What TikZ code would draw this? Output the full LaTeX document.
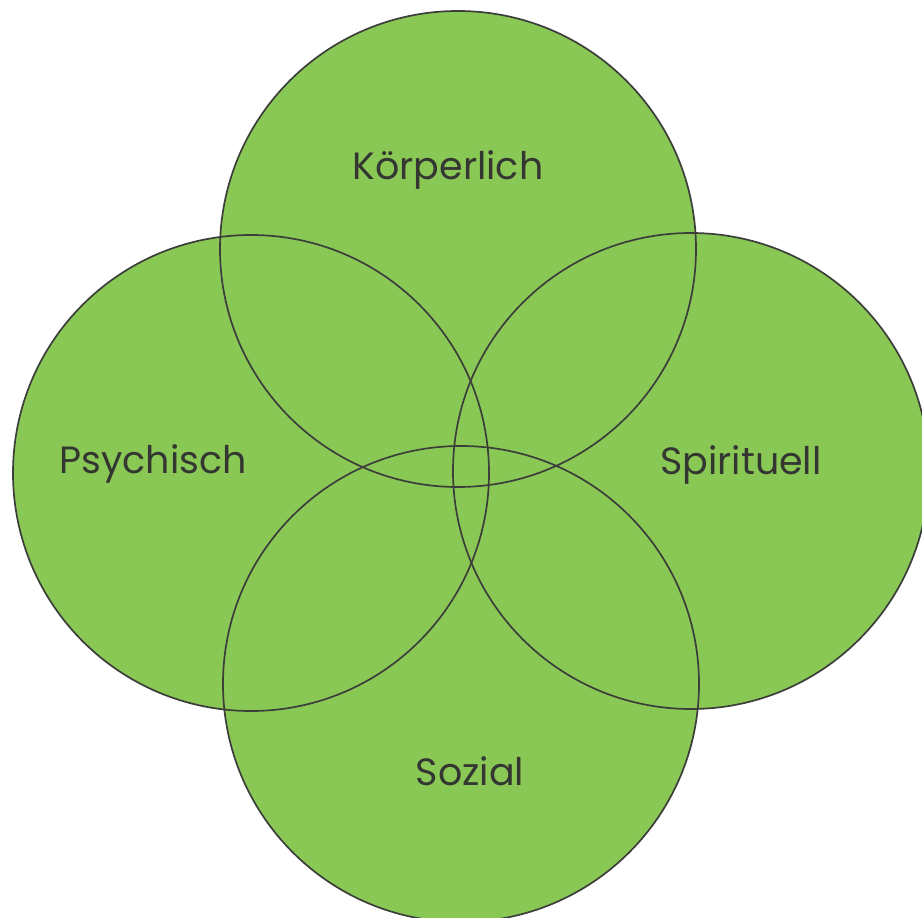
\documentclass[tikz,border=0pt]{standalone}
\usepackage{fontspec}
\setmainfont{Poppins}
\usetikzlibrary{positioning}
\definecolor{leafgreen}{RGB}{138,200,86}
\definecolor{ringgray}{RGB}{60,62,58}
\definecolor{labelgray}{RGB}{52,54,50}
\begin{document}
\begin{tikzpicture}[x=1pt, y=-1pt,
areanode/.style={circle, fill=leafgreen, minimum size=476pt, inner sep=0pt},
ringline/.style={draw=ringgray, line width=1.7pt},
labelnode/.style={text=labelgray, font=\fontsize{38}{42}\selectfont},
]
\useasboundingbox (0,0) rectangle (922,918);
\fill[white] (0,0) rectangle (922,918);
\clip (0,0) rectangle (922,918);

\node[areanode]          (koerper)   at (458,249)     {};
\node[areanode]          (psych)     at (251,473)     {};
\node[areanode]          (spirit)    at (691,471)     {};
\node[areanode]          (sozial)    at (461,684)     {};

\foreach \c in {koerper,psych,spirit,sozial}
  \draw[ringline] (\c.center) circle[radius=238];

\node[labelnode]         (lkoerper)  at (448,170)     {Körperlich};
\node[labelnode]         (lpsych)    at (153,464)     {Psychisch};
\node[labelnode]         (lspirit)   at (741,465)     {Spirituell};
\node[labelnode]         (lsozial)   at (470,771)     {Sozial};
\end{tikzpicture}
\end{document}
